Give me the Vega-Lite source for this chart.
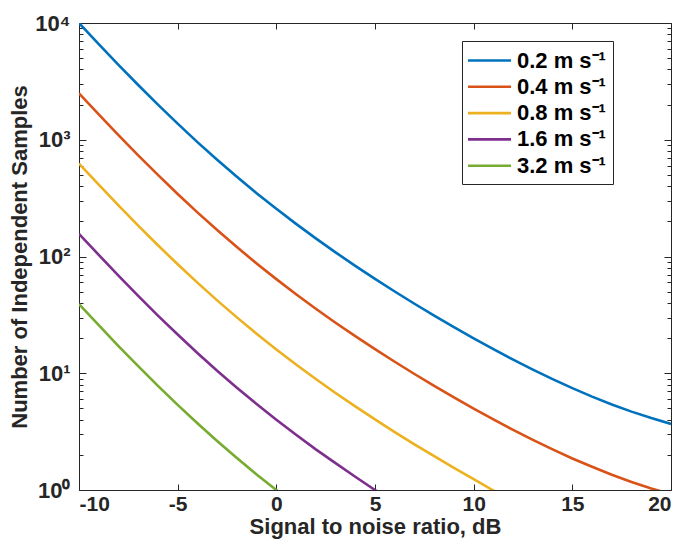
{
  "$schema": "https://vega.github.io/schema/vega-lite/v6.json",
  "autosize": {"type": "none"},
  "padding": {"left": 79, "top": 23, "right": 13, "bottom": 55},
  "width": 592,
  "height": 467,
  "background": "white",
  "config": {
    "view": {"stroke": "#262626", "strokeWidth": 1},
    "font": "Liberation Sans",
    "axis": {
      "grid": false,
      "zindex": 1,
      "domain": false,
      "ticks": true,
      "tickColor": "#262626",
      "tickWidth": 1,
      "labelColor": "#262626",
      "titleColor": "#262626",
      "labelFont": "Liberation Sans",
      "titleFont": "Liberation Sans",
      "labelFontWeight": "bold",
      "titleFontWeight": "bold",
      "labelFontSize": 21,
      "titleFontSize": 22
    }
  },
  "data": {
    "values": [
      {"snr": -10, "v": "0.2 m s⁻¹", "n": 10000}, {"snr": -9, "v": "0.2 m s⁻¹", "n": 6597}, {"snr": -8, "v": "0.2 m s⁻¹", "n": 4385}, {"snr": -7, "v": "0.2 m s⁻¹", "n": 2944}, {"snr": -6, "v": "0.2 m s⁻¹", "n": 1998}, {"snr": -5, "v": "0.2 m s⁻¹", "n": 1373}, {"snr": -4, "v": "0.2 m s⁻¹", "n": 955}, {"snr": -3, "v": "0.2 m s⁻¹", "n": 673.5}, {"snr": -2, "v": "0.2 m s⁻¹", "n": 481.5}, {"snr": -1, "v": "0.2 m s⁻¹", "n": 348.8}, {"snr": 0, "v": "0.2 m s⁻¹", "n": 256}, {"snr": 1, "v": "0.2 m s⁻¹", "n": 190.2}, {"snr": 2, "v": "0.2 m s⁻¹", "n": 142.9}, {"snr": 3, "v": "0.2 m s⁻¹", "n": 108.5}, {"snr": 4, "v": "0.2 m s⁻¹", "n": 83.2}, {"snr": 5, "v": "0.2 m s⁻¹", "n": 64.3}, {"snr": 6, "v": "0.2 m s⁻¹", "n": 50.15}, {"snr": 7, "v": "0.2 m s⁻¹", "n": 39.38}, {"snr": 8, "v": "0.2 m s⁻¹", "n": 31.15}, {"snr": 9, "v": "0.2 m s⁻¹", "n": 24.8}, {"snr": 10, "v": "0.2 m s⁻¹", "n": 19.89}, {"snr": 11, "v": "0.2 m s⁻¹", "n": 16.06}, {"snr": 12, "v": "0.2 m s⁻¹", "n": 13.08}, {"snr": 13, "v": "0.2 m s⁻¹", "n": 10.74}, {"snr": 14, "v": "0.2 m s⁻¹", "n": 8.9}, {"snr": 15, "v": "0.2 m s⁻¹", "n": 7.45}, {"snr": 16, "v": "0.2 m s⁻¹", "n": 6.31}, {"snr": 17, "v": "0.2 m s⁻¹", "n": 5.4}, {"snr": 18, "v": "0.2 m s⁻¹", "n": 4.69}, {"snr": 19, "v": "0.2 m s⁻¹", "n": 4.13}, {"snr": 20, "v": "0.2 m s⁻¹", "n": 3.68},

      {"snr": -10, "v": "0.4 m s⁻¹", "n": 2500}, {"snr": -9, "v": "0.4 m s⁻¹", "n": 1649}, {"snr": -8, "v": "0.4 m s⁻¹", "n": 1096}, {"snr": -7, "v": "0.4 m s⁻¹", "n": 736}, {"snr": -6, "v": "0.4 m s⁻¹", "n": 499.5}, {"snr": -5, "v": "0.4 m s⁻¹", "n": 343.3}, {"snr": -4, "v": "0.4 m s⁻¹", "n": 238.8}, {"snr": -3, "v": "0.4 m s⁻¹", "n": 168.4}, {"snr": -2, "v": "0.4 m s⁻¹", "n": 120.4}, {"snr": -1, "v": "0.4 m s⁻¹", "n": 87.2}, {"snr": 0, "v": "0.4 m s⁻¹", "n": 64}, {"snr": 1, "v": "0.4 m s⁻¹", "n": 47.55}, {"snr": 2, "v": "0.4 m s⁻¹", "n": 35.7}, {"snr": 3, "v": "0.4 m s⁻¹", "n": 27.1}, {"snr": 4, "v": "0.4 m s⁻¹", "n": 20.8}, {"snr": 5, "v": "0.4 m s⁻¹", "n": 16.1}, {"snr": 6, "v": "0.4 m s⁻¹", "n": 12.54}, {"snr": 7, "v": "0.4 m s⁻¹", "n": 9.85}, {"snr": 8, "v": "0.4 m s⁻¹", "n": 7.79}, {"snr": 9, "v": "0.4 m s⁻¹", "n": 6.2}, {"snr": 10, "v": "0.4 m s⁻¹", "n": 4.97}, {"snr": 11, "v": "0.4 m s⁻¹", "n": 4.02}, {"snr": 12, "v": "0.4 m s⁻¹", "n": 3.27}, {"snr": 13, "v": "0.4 m s⁻¹", "n": 2.69}, {"snr": 14, "v": "0.4 m s⁻¹", "n": 2.23}, {"snr": 15, "v": "0.4 m s⁻¹", "n": 1.86}, {"snr": 16, "v": "0.4 m s⁻¹", "n": 1.58}, {"snr": 17, "v": "0.4 m s⁻¹", "n": 1.35}, {"snr": 18, "v": "0.4 m s⁻¹", "n": 1.17}, {"snr": 19, "v": "0.4 m s⁻¹", "n": 1.03}, {"snr": 20, "v": "0.4 m s⁻¹", "n": 0.92},

      {"snr": -10, "v": "0.8 m s⁻¹", "n": 625}, {"snr": -9, "v": "0.8 m s⁻¹", "n": 412.3}, {"snr": -8, "v": "0.8 m s⁻¹", "n": 274.1}, {"snr": -7, "v": "0.8 m s⁻¹", "n": 184}, {"snr": -6, "v": "0.8 m s⁻¹", "n": 124.9}, {"snr": -5, "v": "0.8 m s⁻¹", "n": 85.8}, {"snr": -4, "v": "0.8 m s⁻¹", "n": 59.7}, {"snr": -3, "v": "0.8 m s⁻¹", "n": 42.1}, {"snr": -2, "v": "0.8 m s⁻¹", "n": 30.1}, {"snr": -1, "v": "0.8 m s⁻¹", "n": 21.8}, {"snr": 0, "v": "0.8 m s⁻¹", "n": 16}, {"snr": 1, "v": "0.8 m s⁻¹", "n": 11.89}, {"snr": 2, "v": "0.8 m s⁻¹", "n": 8.93}, {"snr": 3, "v": "0.8 m s⁻¹", "n": 6.78}, {"snr": 4, "v": "0.8 m s⁻¹", "n": 5.2}, {"snr": 5, "v": "0.8 m s⁻¹", "n": 4.02}, {"snr": 6, "v": "0.8 m s⁻¹", "n": 3.13}, {"snr": 7, "v": "0.8 m s⁻¹", "n": 2.46}, {"snr": 8, "v": "0.8 m s⁻¹", "n": 1.95}, {"snr": 9, "v": "0.8 m s⁻¹", "n": 1.55}, {"snr": 10, "v": "0.8 m s⁻¹", "n": 1.24}, {"snr": 11, "v": "0.8 m s⁻¹", "n": 0.99}, {"snr": 12, "v": "0.8 m s⁻¹", "n": 0.82},

      {"snr": -10, "v": "1.6 m s⁻¹", "n": 156.3}, {"snr": -9, "v": "1.6 m s⁻¹", "n": 103.1}, {"snr": -8, "v": "1.6 m s⁻¹", "n": 68.5}, {"snr": -7, "v": "1.6 m s⁻¹", "n": 46}, {"snr": -6, "v": "1.6 m s⁻¹", "n": 31.2}, {"snr": -5, "v": "1.6 m s⁻¹", "n": 21.5}, {"snr": -4, "v": "1.6 m s⁻¹", "n": 14.9}, {"snr": -3, "v": "1.6 m s⁻¹", "n": 10.5}, {"snr": -2, "v": "1.6 m s⁻¹", "n": 7.52}, {"snr": -1, "v": "1.6 m s⁻¹", "n": 5.45}, {"snr": 0, "v": "1.6 m s⁻¹", "n": 4}, {"snr": 1, "v": "1.6 m s⁻¹", "n": 2.97}, {"snr": 2, "v": "1.6 m s⁻¹", "n": 2.23}, {"snr": 3, "v": "1.6 m s⁻¹", "n": 1.7}, {"snr": 4, "v": "1.6 m s⁻¹", "n": 1.3}, {"snr": 5, "v": "1.6 m s⁻¹", "n": 1.0}, {"snr": 6, "v": "1.6 m s⁻¹", "n": 0.78},

      {"snr": -10, "v": "3.2 m s⁻¹", "n": 39.1}, {"snr": -9, "v": "3.2 m s⁻¹", "n": 25.8}, {"snr": -8, "v": "3.2 m s⁻¹", "n": 17.1}, {"snr": -7, "v": "3.2 m s⁻¹", "n": 11.5}, {"snr": -6, "v": "3.2 m s⁻¹", "n": 7.8}, {"snr": -5, "v": "3.2 m s⁻¹", "n": 5.36}, {"snr": -4, "v": "3.2 m s⁻¹", "n": 3.73}, {"snr": -3, "v": "3.2 m s⁻¹", "n": 2.63}, {"snr": -2, "v": "3.2 m s⁻¹", "n": 1.88}, {"snr": -1, "v": "3.2 m s⁻¹", "n": 1.36}, {"snr": 0, "v": "3.2 m s⁻¹", "n": 1.0}, {"snr": 1, "v": "3.2 m s⁻¹", "n": 0.74}
    ]
  },
  "layer": [
    {
      "mark": {"type": "line", "strokeWidth": 2.6, "clip": true},
      "encoding": {
        "x": {
          "field": "snr", "type": "quantitative",
          "scale": {"domain": [-10, 20], "nice": false, "zero": false},
          "axis": {"values": [-10, -5, 0, 5, 10, 15, 20], "labelExpr": "'' + datum.value", "offset": -6, "tickSize": 6, "labelPadding": 3, "title": "Signal to noise ratio, dB", "titlePadding": 2}
        },
        "y": {
          "field": "n", "type": "quantitative",
          "scale": {"type": "log", "domain": [1, 10000], "nice": false},
          "axis": {
            "values": [1,2,3,4,5,6,7,8,9,10,20,30,40,50,60,70,80,90,100,200,300,400,500,600,700,800,900,1000,2000,3000,4000,5000,6000,7000,8000,9000,10000],
            "labelExpr": "datum.value == 1 ? '10⁰' : datum.value == 10 ? '10¹' : datum.value == 100 ? '10²' : datum.value == 1000 ? '10³' : datum.value == 10000 ? '10⁴' : ''",
            "offset": -7,
            "tickSize": 7,
            "tickDash": {"condition": {"test": "indexof([1,10,100,1000,10000], datum.value) >= 0", "value": [7, 0]}, "value": [0, 3, 4, 10]},
            "labelPadding": 9,
            "labelFontSize": 22,
            "title": "Number of Independent Samples",
            "titlePadding": 3
          }
        },
        "color": {
          "field": "v", "type": "nominal",
          "sort": ["0.2 m s⁻¹", "0.4 m s⁻¹", "0.8 m s⁻¹", "1.6 m s⁻¹", "3.2 m s⁻¹"],
          "scale": {"domain": ["0.2 m s⁻¹", "0.4 m s⁻¹", "0.8 m s⁻¹", "1.6 m s⁻¹", "3.2 m s⁻¹"], "range": ["#0072BD", "#D95319", "#EDB120", "#7E2F8E", "#77AC30"]},
          "legend": {
            "orient": "none", "legendX": 383, "legendY": 18, "title": null,
            "symbolType": "M-2,0H2", "symbolSize": 462, "symbolStrokeWidth": 2.6, "symbolOffset": 8,
            "labelFontSize": 22, "labelFont": "Liberation Sans", "labelFontWeight": "bold", "labelColor": "#000000",
            "strokeColor": "#262626", "fillColor": "white", "padding": 7, "rowPadding": 2.3, "labelOffset": 15, "labelLimit": 0
          }
        }
      }
    },
    {
      "mark": {"type": "line", "opacity": 0},
      "encoding": {
        "x": {"field": "snr", "type": "quantitative", "axis": {"orient": "top", "values": [-10, -5, 0, 5, 10, 15, 20], "offset": -6, "tickSize": 6, "labels": false, "title": null}},
        "y": {"field": "n", "type": "quantitative", "axis": {"orient": "right", "values": [1,2,3,4,5,6,7,8,9,10,20,30,40,50,60,70,80,90,100,200,300,400,500,600,700,800,900,1000,2000,3000,4000,5000,6000,7000,8000,9000,10000], "offset": -7, "tickSize": 7, "tickDash": {"condition": {"test": "indexof([1,10,100,1000,10000], datum.value) >= 0", "value": [7, 0]}, "value": [0, 3, 4, 10]}, "labels": false, "title": null}},
        "detail": {"field": "v"}
      }
    }
  ],
  "resolve": {"axis": {"x": "independent", "y": "independent"}}
}
